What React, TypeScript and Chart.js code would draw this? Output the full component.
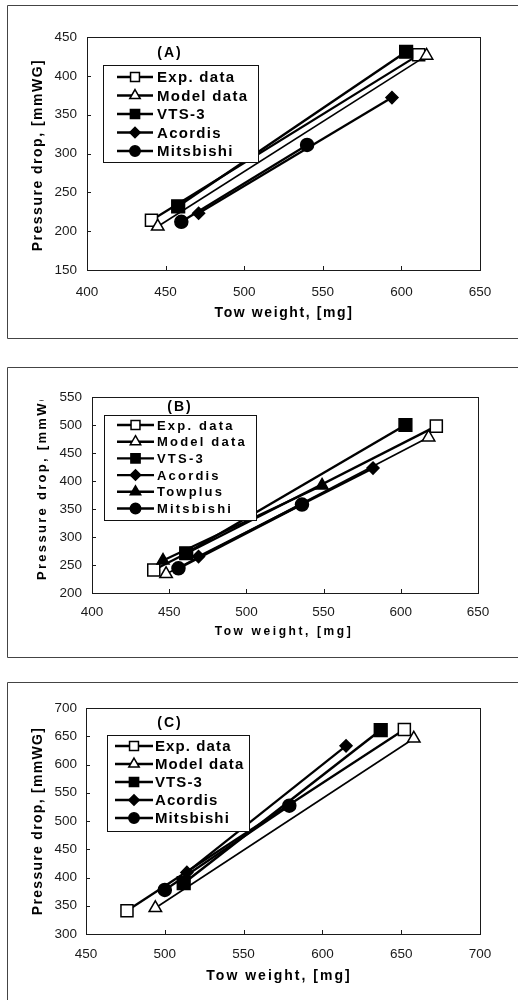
import React, { useEffect, useRef } from 'react';
import { Chart, registerables } from 'chart.js';

Chart.register(...registerables);

const FONT = "'Liberation Sans', Arial, sans-serif";
const W = 518;

// ---------- Panel A data ----------
const aLabels = ['Exp. data', 'Model data', 'VTS-3', 'Acordis', 'Mitsbishi'];
const aExpX = [441, 611];
const aExpY = [214, 427];
const aModelX = [445, 616];
const aModelY = [206, 426];
const aVtsX = [458, 603];
const aVtsY = [232, 431];
const aAcoX = [471, 594];
const aAcoY = [223, 372];
const aMitX = [460, 540];
const aMitY = [212, 311];
const aXTicks = [400, 650, 50]; // min, max, step
const aYTicks = [150, 450, 50];

// ---------- Panel B data ----------
const bLabels = ['Exp. data', 'Model data', 'VTS-3', 'Acordis', 'Towplus', 'Mitsbishi'];
const bExpX = [440, 623];
const bExpY = [241, 498];
const bModelX = [448, 618];
const bModelY = [234, 478];
const bVtsX = [461, 603];
const bVtsY = [271, 500];
const bAcoX = [469, 582];
const bAcoY = [265, 423];
const bTowX = [446, 549];
const bTowY = [258, 392];
const bMitX = [456, 536];
const bMitY = [244, 358];
const bXTicks = [400, 650, 50];
const bYTicks = [200, 550, 50];

// ---------- Panel C data ----------
const cLabels = ['Exp. data', 'Model data', 'VTS-3', 'Acordis', 'Mitsbishi'];
const cExpX = [476, 652];
const cExpY = [341, 662];
const cModelX = [494, 658];
const cModelY = [346, 646];
const cVtsX = [512, 637];
const cVtsY = [390, 661];
const cAcoX = [514, 615];
const cAcoY = [409, 633];
const cMitX = [500, 579];
const cMitY = [378, 527];
const cXTicks = [450, 700, 50];
const cYTicks = [300, 700, 50];

const xTitleText = 'Tow weight, [mg]';
const yTitleText = 'Pressure drop, [mmWG]';

// ---------- styles ----------
const STYLE: Record<string, any> = {
  'Exp. data': { shape: 'rect', filled: false, r: 8.5, lr: 6.3, lw: 2.3 },
  'Model data': { shape: 'triangle', filled: false, r: 7.2, lr: 6, lw: 1.6 },
  'VTS-3': { shape: 'rect', filled: true, r: 9, lr: 6.5, lw: 2.5 },
  'Acordis': { shape: 'rectRot', filled: true, r: 6, lr: 5.2, lw: 2.3 },
  'Towplus': { shape: 'triangle', filled: true, r: 7, lr: 6, lw: 2.3 },
  'Mitsbishi': { shape: 'circle', filled: true, r: 6.5, lr: 5.2, lw: 2.3 },
};

function pts(xs: number[], ys: number[]) {
  return xs.map((x, i) => ({ x, y: ys[i] }));
}

const PANELS = [
  {
    key: 'A', top: 0, height: 340,
    area: { left: 87, right: 480, top: 37, bottom: 270 },
    xT: aXTicks, yT: aYTicks, xPad: 14, yPad: 10,
    labels: aLabels,
    series: [pts(aExpX, aExpY), pts(aModelX, aModelY), pts(aVtsX, aVtsY), pts(aAcoX, aAcoY), pts(aMitX, aMitY)],
    frame: { top: 5, bottom: 338, left: 7 },
    legend: { x: 103, y: 65, w: 155, h: 97, row0: 77, step: 18.5, lx1: 117, lx2: 153, tx: 157, size: 15, sp: 1.3 },
    tag: { text: '(A)', x: 170, y: 53, size: 14, sp: 2 },
    xTitle: { x: 284, y: 313, size: 14, sp: 1.6 },
    yTitle: { x: 38, y: 155, size: 14, sp: 1.5 },
  },
  {
    key: 'B', top: 340, height: 330,
    area: { left: 92, right: 478, top: 57, bottom: 253 },
    xT: bXTicks, yT: bYTicks, xPad: 11, yPad: 10,
    labels: bLabels,
    series: [pts(bExpX, bExpY), pts(bModelX, bModelY), pts(bVtsX, bVtsY), pts(bAcoX, bAcoY), pts(bTowX, bTowY), pts(bMitX, bMitY)],
    frame: { top: 27, bottom: 317, left: 7 },
    legend: { x: 104, y: 75, w: 152, h: 105, row0: 85, step: 16.7, lx1: 117, lx2: 154, tx: 157, size: 13, sp: 2.2 },
    tag: { text: '(B)', x: 180, y: 67, size: 14, sp: 2 },
    xTitle: { x: 284, y: 292, size: 12, sp: 2.6 },
    yTitle: { x: 42, bottomY: 240, clipTop: 60, size: 13, sp: 2.3 },
  },
  {
    key: 'C', top: 670, height: 330,
    area: { left: 86, right: 480, top: 38, bottom: 264 },
    xT: cXTicks, yT: cYTicks, xPad: 12, yPad: 9,
    labels: cLabels,
    series: [pts(cExpX, cExpY), pts(cModelX, cModelY), pts(cVtsX, cVtsY), pts(cAcoX, cAcoY), pts(cMitX, cMitY)],
    frame: { top: 12, bottom: null, left: 7 },
    legend: { x: 107, y: 65, w: 142, h: 96, row0: 76, step: 18, lx1: 115, lx2: 153, tx: 155, size: 15, sp: 1.1 },
    tag: { text: '(C)', x: 170, y: 53, size: 14, sp: 2 },
    xTitle: { x: 279, y: 306, size: 14, sp: 2.0 },
    yTitle: { x: 38, y: 151, size: 14, sp: 1.3 },
  },
];

function drawMarker(ctx: CanvasRenderingContext2D, shape: string, x: number, y: number, r: number, filled: boolean) {
  ctx.beginPath();
  if (shape === 'rect') {
    const s = r * Math.SQRT1_2;
    ctx.rect(x - s, y - s, 2 * s, 2 * s);
  } else if (shape === 'triangle') {
    ctx.moveTo(x, y - r);
    ctx.lineTo(x + r * Math.sin((2 * Math.PI) / 3), y - r * Math.cos((2 * Math.PI) / 3));
    ctx.lineTo(x + r * Math.sin((4 * Math.PI) / 3), y - r * Math.cos((4 * Math.PI) / 3));
    ctx.closePath();
  } else if (shape === 'rectRot') {
    ctx.moveTo(x - r, y);
    ctx.lineTo(x, y - r);
    ctx.lineTo(x + r, y);
    ctx.lineTo(x, y + r);
    ctx.closePath();
  } else {
    ctx.arc(x, y, r, 0, Math.PI * 2);
  }
  ctx.fillStyle = filled ? '#000' : '#fff';
  ctx.fill();
  ctx.lineWidth = 1.5;
  ctx.strokeStyle = '#000';
  ctx.stroke();
}

function makePlugin(p: any) {
  return {
    id: 'deco' + p.key,
    afterDatasetsDraw(chart: any) {
      const ctx: any = chart.ctx;
      const a = chart.chartArea;
      const xs = chart.scales.x;
      const ys = chart.scales.y;
      ctx.save();
      // plot border
      ctx.strokeStyle = '#1a1a1a';
      ctx.lineWidth = 1;
      ctx.strokeRect(Math.round(a.left) + 0.5, Math.round(a.top) + 0.5, Math.round(a.right - a.left), Math.round(a.bottom - a.top));
      // inward ticks
      ctx.beginPath();
      xs.ticks.forEach((t: any) => {
        const px = Math.round(xs.getPixelForValue(t.value)) + 0.5;
        ctx.moveTo(px, a.bottom);
        ctx.lineTo(px, a.bottom - 4);
      });
      ys.ticks.forEach((t: any) => {
        const py = Math.round(ys.getPixelForValue(t.value)) + 0.5;
        ctx.moveTo(a.left, py);
        ctx.lineTo(a.left + 4, py);
      });
      ctx.stroke();

      // outer frame
      const f = p.frame;
      ctx.strokeStyle = '#444';
      ctx.beginPath();
      ctx.moveTo(f.left + 0.5, f.top + 0.5);
      ctx.lineTo(W, f.top + 0.5);
      ctx.moveTo(f.left + 0.5, f.top + 0.5);
      ctx.lineTo(f.left + 0.5, f.bottom !== null ? f.bottom + 0.5 : p.height);
      if (f.bottom !== null) {
        ctx.moveTo(f.left + 0.5, f.bottom + 0.5);
        ctx.lineTo(W, f.bottom + 0.5);
      }
      ctx.stroke();

      // legend
      const L = p.legend;
      ctx.fillStyle = '#fff';
      ctx.fillRect(L.x, L.y, L.w, L.h);
      ctx.strokeStyle = '#111';
      ctx.lineWidth = 1;
      ctx.strokeRect(L.x + 0.5, L.y + 0.5, L.w, L.h);
      p.labels.forEach((lab: string, i: number) => {
        const st = STYLE[lab];
        const y = L.row0 + i * L.step;
        ctx.beginPath();
        ctx.moveTo(L.lx1, y);
        ctx.lineTo(L.lx2, y);
        ctx.lineWidth = 2.4;
        ctx.strokeStyle = '#000';
        ctx.stroke();
        drawMarker(ctx, st.shape, (L.lx1 + L.lx2) / 2, y, st.lr, st.filled);
        ctx.fillStyle = '#000';
        ctx.font = `bold ${L.size}px ${FONT}`;
        ctx.letterSpacing = `${L.sp}px`;
        ctx.textAlign = 'left';
        ctx.textBaseline = 'middle';
        ctx.fillText(lab, L.tx, y + 1);
      });

      // panel tag
      ctx.font = `bold ${p.tag.size}px ${FONT}`;
      ctx.letterSpacing = `${p.tag.sp}px`;
      ctx.textAlign = 'center';
      ctx.textBaseline = 'middle';
      ctx.fillStyle = '#000';
      ctx.fillText(p.tag.text, p.tag.x, p.tag.y);

      // x title
      ctx.font = `bold ${p.xTitle.size}px ${FONT}`;
      ctx.letterSpacing = `${p.xTitle.sp}px`;
      ctx.fillText(xTitleText, p.xTitle.x, p.xTitle.y);

      // y title
      const yt = p.yTitle;
      ctx.save();
      if (yt.clipTop !== undefined) {
        ctx.beginPath();
        ctx.rect(0, yt.clipTop, W, p.height - yt.clipTop);
        ctx.clip();
      }
      ctx.font = `bold ${yt.size}px ${FONT}`;
      ctx.letterSpacing = `${yt.sp}px`;
      if (yt.bottomY !== undefined) {
        ctx.translate(yt.x, yt.bottomY);
        ctx.rotate(-Math.PI / 2);
        ctx.textAlign = 'left';
      } else {
        ctx.translate(yt.x, yt.y);
        ctx.rotate(-Math.PI / 2);
        ctx.textAlign = 'center';
      }
      ctx.textBaseline = 'middle';
      ctx.fillText(yTitleText, 0, 0);
      ctx.restore();

      ctx.restore();
    },
  };
}

function Panel({ p }: { p: any }) {
  const ref = useRef<HTMLCanvasElement>(null);
  useEffect(() => {
    if (!ref.current) return;
    const datasets = p.labels.map((lab: string, i: number) => {
      const st = STYLE[lab];
      return {
        label: lab,
        data: p.series[i],
        showLine: true,
        borderColor: '#000',
        borderWidth: st.lw,
        pointStyle: st.shape,
        pointRadius: st.r,
        pointBorderWidth: 1.5,
        pointBorderColor: '#000',
        pointBackgroundColor: st.filled ? '#000' : '#fff',
        order: p.labels.length - i,
        clip: false,
      };
    });
    const tickFont = { family: FONT, size: 13.5 };
    const chart = new Chart(ref.current, {
      type: 'scatter',
      data: { datasets },
      options: {
        animation: false,
        responsive: false,
        devicePixelRatio: 1,
        layout: { padding: { left: 0, right: W - p.area.right, top: p.area.top, bottom: 0 } },
        plugins: { legend: { display: false }, tooltip: { enabled: false } },
        scales: {
          x: {
            type: 'linear',
            min: p.xT[0], max: p.xT[1],
            ticks: { stepSize: p.xT[2], padding: p.xPad, font: tickFont, color: '#1a1a1a', maxRotation: 0 },
            grid: { display: false, drawTicks: false },
            border: { display: false },
            afterFit: (s: any) => { s.height = p.height - p.area.bottom; },
          },
          y: {
            type: 'linear',
            min: p.yT[0], max: p.yT[1],
            ticks: { stepSize: p.yT[2], padding: p.yPad, font: tickFont, color: '#1a1a1a' },
            grid: { display: false, drawTicks: false },
            border: { display: false },
            afterFit: (s: any) => { s.width = p.area.left; },
          },
        },
      } as any,
      plugins: [makePlugin(p)],
    });
    return () => chart.destroy();
  }, [p]);
  return (
    <canvas
      ref={ref}
      width={W}
      height={p.height}
      style={{ position: 'absolute', left: 0, top: p.top, width: W, height: p.height }}
    />
  );
}

export default function App() {
  return (
    <div style={{ position: 'absolute', left: 0, top: 0, width: W, height: 1000, background: '#fff', overflow: 'hidden' }}>
      {PANELS.map((p) => (
        <Panel key={p.key} p={p} />
      ))}
    </div>
  );
}
